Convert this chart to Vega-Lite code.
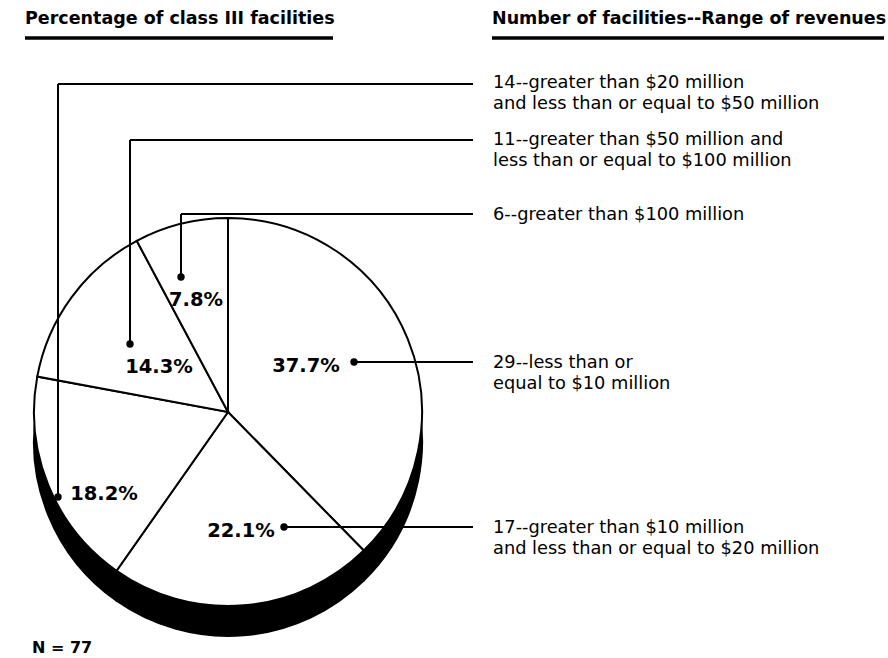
{
  "$schema": "https://vega.github.io/schema/vega-lite/v6.json",
  "width": 888,
  "height": 658,
  "padding": 0,
  "autosize": {"type": "fit", "contains": "padding"},
  "background": "white",
  "config": {"view": {"stroke": null}, "font": "DejaVu Sans"},
  "datasets": {
    "slices": [
      {"range": "less than or equal to $10 million", "count": 29, "share": 0.377, "idx": 1},
      {"range": "greater than $10 million and less than or equal to $20 million", "count": 17, "share": 0.221, "idx": 2},
      {"range": "greater than $20 million and less than or equal to $50 million", "count": 14, "share": 0.182, "idx": 3},
      {"range": "greater than $50 million and less than or equal to $100 million", "count": 11, "share": 0.143, "idx": 4},
      {"range": "greater than $100 million", "count": 6, "share": 0.078, "idx": 5}
    ],
    "callouts": [
      {"share": 0.377, "label": "29--less than or\nequal to $10 million", "dotX": 354, "dotY": 362, "lineY": 362, "endX": 473, "pctX": 306, "pctY": 372, "labelX": 493, "labelY": 368},
      {"share": 0.221, "label": "17--greater than $10 million\nand less than or equal to $20 million", "dotX": 284, "dotY": 527, "lineY": 527, "endX": 473, "pctX": 241, "pctY": 537, "labelX": 493, "labelY": 533},
      {"share": 0.182, "label": "14--greater than $20 million\nand less than or equal to $50 million", "dotX": 58, "dotY": 497, "lineY": 84, "endX": 473, "pctX": 104, "pctY": 500, "labelX": 493, "labelY": 88},
      {"share": 0.143, "label": "11--greater than $50 million and\nless than or equal to $100 million", "dotX": 130, "dotY": 344, "lineY": 140, "endX": 473, "pctX": 159, "pctY": 373, "labelX": 493, "labelY": 145},
      {"share": 0.078, "label": "6--greater than $100 million", "dotX": 181, "dotY": 277, "lineY": 214, "endX": 473, "pctX": 196, "pctY": 306, "labelX": 493, "labelY": 220}
    ],
    "titles": [
      {"text": "Percentage of class III facilities", "x": 25, "x2": 333, "y": 24, "uy": 38},
      {"text": "Number of facilities--Range of revenues", "x": 492, "x2": 884, "y": 24, "uy": 38}
    ],
    "note": [
      {"text": "N = 77", "x": 32, "y": 653}
    ]
  },
  "layer": [
    {
      "data": {"name": "slices"},
      "mark": {"type": "arc", "radius": 194, "fill": "black", "stroke": "black", "strokeWidth": 2},
      "encoding": {
        "theta": {"field": "share", "type": "quantitative", "stack": true},
        "order": {"field": "idx", "type": "quantitative"},
        "x": {"datum": 228, "type": "quantitative", "scale": {"domain": [0, 888], "nice": false, "zero": false}, "axis": null},
        "y": {"datum": 442, "type": "quantitative", "scale": {"domain": [0, 658], "nice": false, "zero": false, "reverse": true}, "axis": null}
      }
    },
    {
      "data": {"name": "slices"},
      "mark": {"type": "arc", "radius": 194, "fill": "white", "stroke": "black", "strokeWidth": 2},
      "encoding": {
        "theta": {"field": "share", "type": "quantitative", "stack": true},
        "order": {"field": "idx", "type": "quantitative"},
        "x": {"datum": 228, "type": "quantitative", "scale": {"domain": [0, 888], "nice": false, "zero": false}, "axis": null},
        "y": {"datum": 412, "type": "quantitative", "scale": {"domain": [0, 658], "nice": false, "zero": false, "reverse": true}, "axis": null}
      }
    },
    {
      "data": {"name": "callouts"},
      "mark": {"type": "rule", "color": "black", "strokeWidth": 2},
      "encoding": {
        "x": {"field": "dotX", "type": "quantitative", "scale": {"domain": [0, 888], "nice": false, "zero": false}, "axis": null},
        "y": {"field": "dotY", "type": "quantitative", "scale": {"domain": [0, 658], "nice": false, "zero": false, "reverse": true}, "axis": null},
        "y2": {"field": "lineY"}
      }
    },
    {
      "data": {"name": "callouts"},
      "mark": {"type": "rule", "color": "black", "strokeWidth": 2},
      "encoding": {
        "x": {"field": "dotX", "type": "quantitative", "scale": {"domain": [0, 888], "nice": false, "zero": false}, "axis": null},
        "x2": {"field": "endX"},
        "y": {"field": "lineY", "type": "quantitative", "scale": {"domain": [0, 658], "nice": false, "zero": false, "reverse": true}, "axis": null}
      }
    },
    {
      "data": {"name": "callouts"},
      "mark": {"type": "point", "shape": "circle", "filled": true, "color": "black", "size": 55, "opacity": 1},
      "encoding": {
        "x": {"field": "dotX", "type": "quantitative", "scale": {"domain": [0, 888], "nice": false, "zero": false}, "axis": null},
        "y": {"field": "dotY", "type": "quantitative", "scale": {"domain": [0, 658], "nice": false, "zero": false, "reverse": true}, "axis": null}
      }
    },
    {
      "data": {"name": "callouts"},
      "mark": {"type": "text", "font": "DejaVu Sans", "fontWeight": "bold", "fontSize": 19.5, "align": "center", "baseline": "alphabetic", "color": "black"},
      "encoding": {
        "x": {"field": "pctX", "type": "quantitative", "scale": {"domain": [0, 888], "nice": false, "zero": false}, "axis": null},
        "y": {"field": "pctY", "type": "quantitative", "scale": {"domain": [0, 658], "nice": false, "zero": false, "reverse": true}, "axis": null},
        "text": {"field": "share", "type": "quantitative", "format": ".1%"}
      }
    },
    {
      "data": {"name": "callouts"},
      "mark": {"type": "text", "font": "DejaVu Sans", "fontSize": 17.8, "align": "left", "baseline": "alphabetic", "lineBreak": "\n", "lineHeight": 21, "color": "black"},
      "encoding": {
        "x": {"field": "labelX", "type": "quantitative", "scale": {"domain": [0, 888], "nice": false, "zero": false}, "axis": null},
        "y": {"field": "labelY", "type": "quantitative", "scale": {"domain": [0, 658], "nice": false, "zero": false, "reverse": true}, "axis": null},
        "text": {"field": "label", "type": "nominal"}
      }
    },
    {
      "data": {"name": "titles"},
      "mark": {"type": "text", "font": "DejaVu Sans", "fontWeight": "bold", "fontSize": 17.5, "align": "left", "baseline": "alphabetic", "color": "black"},
      "encoding": {
        "x": {"field": "x", "type": "quantitative", "scale": {"domain": [0, 888], "nice": false, "zero": false}, "axis": null},
        "y": {"field": "y", "type": "quantitative", "scale": {"domain": [0, 658], "nice": false, "zero": false, "reverse": true}, "axis": null},
        "text": {"field": "text", "type": "nominal"}
      }
    },
    {
      "data": {"name": "titles"},
      "mark": {"type": "rule", "color": "black", "strokeWidth": 3.5},
      "encoding": {
        "x": {"field": "x", "type": "quantitative", "scale": {"domain": [0, 888], "nice": false, "zero": false}, "axis": null},
        "x2": {"field": "x2"},
        "y": {"field": "uy", "type": "quantitative", "scale": {"domain": [0, 658], "nice": false, "zero": false, "reverse": true}, "axis": null}
      }
    },
    {
      "data": {"name": "note"},
      "mark": {"type": "text", "font": "DejaVu Sans", "fontWeight": "bold", "fontSize": 16, "align": "left", "baseline": "alphabetic", "color": "black"},
      "encoding": {
        "x": {"field": "x", "type": "quantitative", "scale": {"domain": [0, 888], "nice": false, "zero": false}, "axis": null},
        "y": {"field": "y", "type": "quantitative", "scale": {"domain": [0, 658], "nice": false, "zero": false, "reverse": true}, "axis": null},
        "text": {"field": "text", "type": "nominal"}
      }
    }
  ]
}
